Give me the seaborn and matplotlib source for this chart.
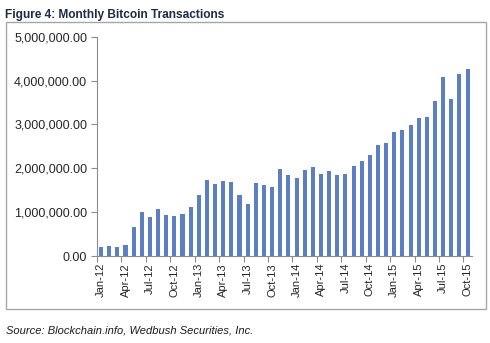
import numpy as np
import pandas as pd
import matplotlib
matplotlib.use("Agg")
import matplotlib.pyplot as plt
import seaborn as sns
from matplotlib.patches import Rectangle
from matplotlib.ticker import FuncFormatter

months = ["Jan", "Feb", "Mar", "Apr", "May", "Jun", "Jul", "Aug", "Sep", "Oct", "Nov", "Dec"]
categories = [f"{m}-{y}" for y in ["12", "13", "14", "15"] for m in months][:46]

transactions = [
    198000, 228000, 198000, 243000, 668000, 996000, 889000, 1080000, 935000, 912000, 965000, 1117000,
    1390000, 1725000, 1640000, 1710000, 1687000, 1390000, 1190000, 1664000, 1610000, 1580000, 1980000, 1846000,
    1778000, 1968000, 2040000, 1880000, 1940000, 1846000, 1860000, 2060000, 2160000, 2310000, 2530000, 2580000,
    2830000, 2880000, 2980000, 3150000, 3170000, 3530000, 4080000, 3570000, 4160000, 4260000,
]

yticks = [0, 1000000, 2000000, 3000000, 4000000, 5000000]

df = pd.DataFrame({"month": categories, "transactions": transactions})

sns.set_style("white")
plt.rcParams["font.family"] = ["Liberation Sans", "DejaVu Sans"]

fig = plt.figure(figsize=(4.9, 3.43), dpi=100)
fig.patches.append(Rectangle((0.0122, 0.0991), 0.98, 0.837, transform=fig.transFigure,
                             fill=False, edgecolor="#a6a6a6", linewidth=1.0))

ax = fig.add_axes([0.198, 0.2536, 0.7645, 0.6394])
sns.barplot(data=df, x="month", y="transactions", color="#5b7fc0", width=0.5,
            saturation=1, linewidth=0, ax=ax)

ax.set_ylim(0, 5000000)
ax.set_xlim(-0.5, 45.5)
ax.set_yticks(yticks)
ax.yaxis.set_major_formatter(FuncFormatter(lambda v, p: f"{v:,.2f}"))
ax.tick_params(axis="y", length=4, width=0.8, color="#8c8c8c", labelsize=9, pad=3, left=True)

xt = list(range(0, 46, 3))
ax.set_xticks(xt)
ax.set_xticklabels([categories[i] for i in xt], rotation=90, fontsize=8)
ax.tick_params(axis="x", which="major", length=0, pad=5)
ax.set_xticks(np.arange(-0.5, 46, 3), minor=True)
ax.tick_params(axis="x", which="minor", length=4, width=0.8, color="#8c8c8c", bottom=True)

for s in ["top", "right"]:
    ax.spines[s].set_visible(False)
for s in ["left", "bottom"]:
    ax.spines[s].set_color("#8c8c8c")
    ax.spines[s].set_linewidth(0.8)
ax.set_xlabel("")
ax.set_ylabel("")

fig.text(0.011, 0.975, "Figure 4: Monthly Bitcoin Transactions", fontsize=8.6,
         fontweight="bold", color="#1f2a44", va="top", ha="left")
fig.text(0.013, 0.022, "Source: Blockchain.info, Wedbush Securities, Inc.", fontsize=8,
         style="italic", color="#1a1a1a", va="bottom", ha="left")

fig.savefig("out.png", dpi=100)
